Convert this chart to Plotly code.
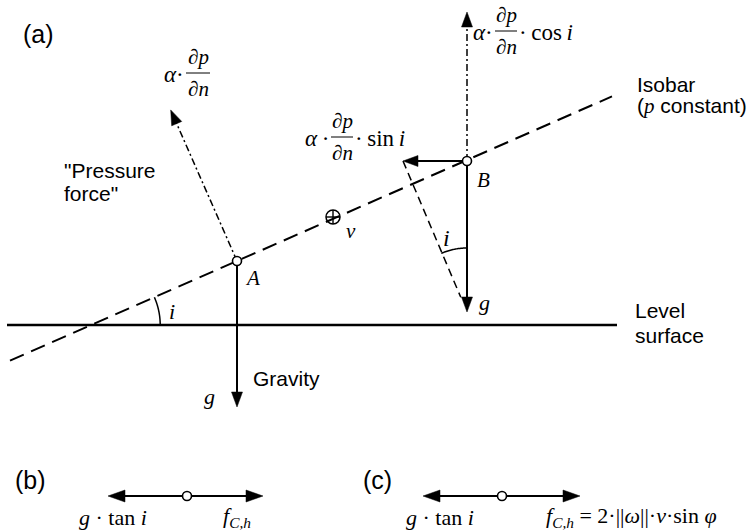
import math
import plotly.graph_objects as go

W, H = 751, 531

# ---------------- diagram data (drawing units = axis units) ----------------
incl_deg = 23.7                      # inclination angle i of the isobar
point_names = ["A", "B"]             # points on the isobar
point_x = [237, 467]
point_y = [261, 161]
level_y = 325                        # level surface
level_x = [7, 617]
isobar_x = [10, 612]                 # extent of the isobar
gravity_tip_y = [407, 312]           # g arrow tips below A and B
pressure_len = 165                   # "pressure force" arrow length at A
cos_tip_y = 12                       # upward component at B
sin_tip_x = 403                      # horizontal component at B
velocity_xy = [333, 217]             # ⊕ v (flow into the page)

# panels (b) and (c)
panel_labels = ["(b)", "(c)"]
panel_label_x = [30, 377]
panel_mid_x = [187, 502]
panel_left_x = [108, 423]
panel_right_x = [263, 580]
panel_y = 496
panel_left_text = ["<i>g</i> · tan <i>i</i>", "<i>g</i> · tan <i>i</i>"]
panel_right_text = ["<i>f</i><sub><i>C,h</i></sub>",
                    "<i>f</i><sub><i>C,h</i></sub> = 2·||<i>ω</i>||·<i>v</i>·sin <i>φ</i>"]
panel_left_text_x = [78, 405]
panel_right_text_x = [222, 545]

SANS = "Liberation Sans, Arial, sans-serif"
SERIF = "Liberation Serif, Times New Roman, serif"
SANS_SIZE = 21
PANEL_SIZE = 25
MATH_SIZE = 23
FRAC_SIZE = 21

shapes = []
annotations = []
ti = math.tan(math.radians(incl_deg))
Ax, Ay = point_x[0], point_y[0]
Bx, By = point_x[1], point_y[1]


def iso_y(x):
    return Ay - (x - Ax) * ti


def seg(x0, y0, x1, y1, width=2.0, dash="solid"):
    shapes.append(dict(type="line", xref="x", yref="y", x0=x0, y0=y0, x1=x1, y1=y1,
                       line=dict(color="black", width=width, dash=dash), layer="below"))


def arrow(x0, y0, x1, y1, width=2.0, dash="solid", hl=15, hw=5.5):
    dx, dy = x1 - x0, y1 - y0
    L = math.hypot(dx, dy)
    ux, uy = dx / L, dy / L
    bx, by = x1 - ux * hl, y1 - uy * hl
    seg(x0, y0, bx + ux * 2, by + uy * 2, width, dash)
    px, py = -uy, ux
    path = "M {:.2f},{:.2f} L {:.2f},{:.2f} L {:.2f},{:.2f} Z".format(
        x1, y1, bx + px * hw, by + py * hw, bx - px * hw, by - py * hw)
    shapes.append(dict(type="path", xref="x", yref="y", path=path,
                       fillcolor="black", line=dict(color="black", width=0.5), layer="below"))


def arc(cx, cy, r, a0, a1, n=30):
    pts = []
    for k in range(n + 1):
        a = math.radians(a0 + (a1 - a0) * k / n)
        pts.append((cx + r * math.cos(a), cy - r * math.sin(a)))
    path = "M " + " L ".join("{:.2f},{:.2f}".format(*p) for p in pts)
    shapes.append(dict(type="path", xref="x", yref="y", path=path,
                       line=dict(color="black", width=1.5), layer="below"))


def text(x, y, s, size=SANS_SIZE, family=SANS, xa="center", ya="middle"):
    annotations.append(dict(x=x, y=y, xref="x", yref="y", text=s, showarrow=False,
                            xanchor=xa, yanchor=ya, borderpad=0,
                            font=dict(family=family, size=size, color="black")))


def frac_term(xl, yline, pre, post, w=22):
    """alpha · dp/dn · post, with the fraction bar from xl to xl+w at yline"""
    xc = xl + w / 2
    text(xc, yline - 3, "∂<i>p</i>", FRAC_SIZE, SERIF, ya="bottom")
    text(xc, yline + 3, "∂<i>n</i>", FRAC_SIZE, SERIF, ya="top")
    shapes.append(dict(type="line", xref="x", yref="y", x0=xl, x1=xl + w, y0=yline, y1=yline,
                       line=dict(color="black", width=1), layer="below"))
    text(xl - 1, yline + 1, pre, MATH_SIZE, SERIF, xa="right")
    if post:
        text(xl + w + 1, yline + 1, post, MATH_SIZE, SERIF, xa="left")


# ---------------- panel (a) ----------------
text(38, 34, "(a)", PANEL_SIZE)

# level surface
seg(level_x[0], level_y, level_x[1], level_y, width=2.6)
text(634, 310, "Level", xa="left")
text(634, 335, "surface", xa="left")

# isobar
seg(isobar_x[0], iso_y(isobar_x[0]), isobar_x[1], iso_y(isobar_x[1]), width=2, dash="15px,8px")
text(636, 84, "Isobar", xa="left")
text(636, 106, "(<span style='font-family:Liberation Serif'><i>p</i></span> constant)", xa="left")

# angle i between isobar and level surface
x_cross = Ax - (level_y - Ay) / ti
arc(x_cross, level_y, 69, 0, incl_deg)
text(172, 311, "<i>i</i>", 22, SERIF)

# pressure force at A (perpendicular to isobar)
s, c = math.sin(math.radians(incl_deg)), math.cos(math.radians(incl_deg))
arrow(Ax, Ay, Ax - s * pressure_len, Ay - c * pressure_len, width=1.5, dash="7px,3px,2px,3px")
frac_term(186, 73, "<i>α</i>·", "", w=24)
text(63, 170, "\"Pressure", xa="left")
text(63, 193, "force\"", xa="left")

# gravity at A
arrow(Ax, Ay, Ax, gravity_tip_y[0], width=2)
text(252, 378, "Gravity", xa="left")
text(209, 396, "<i>g</i>", 22, SERIF)
text(252, 278, "<i>A</i>", 21, SERIF)

# velocity into page
vx, vy = velocity_xy
shapes.append(dict(type="circle", xref="x", yref="y", x0=vx - 7, x1=vx + 7, y0=vy - 7, y1=vy + 7,
                   line=dict(color="black", width=1.5), layer="below"))
seg(vx - 7, vy, vx + 7, vy, width=1.4)
seg(vx, vy - 7, vx, vy + 7, width=1.4)
text(351, 231, "<i>v</i>", 21, SERIF)

# point B components
arrow(Bx, By, Bx, cos_tip_y, width=1.5, dash="7px,3px,2px,3px")
frac_term(495, 31, "<i>α</i>·", "·\u2009cos\u2009<i>i</i>")

arrow(Bx, By, sin_tip_x, By, width=2)
frac_term(331, 137, "<i>α</i>\u2009·", "·\u2009sin\u2009<i>i</i>")

arrow(Bx, By, Bx, gravity_tip_y[1], width=2)
text(484, 302, "<i>g</i>", 22, SERIF)
text(483, 180, "<i>B</i>", 21, SERIF)

# dashed line from horizontal component tip toward g tip
gx, gy = Bx, gravity_tip_y[1]
ddx, ddy = gx - sin_tip_x, gy - By
dl = math.hypot(ddx, ddy)
seg(sin_tip_x, By, sin_tip_x + ddx / dl * (dl - 16), By + ddy / dl * (dl - 16), width=1.5, dash="8px,5px")
arc(gx, gy, 64, 90, 90 + incl_deg)
text(446, 238, "<i>i</i>", 24, SERIF)

# ---------------- panels (b) and (c) ----------------
for k in range(2):
    text(panel_label_x[k], 480, panel_labels[k], PANEL_SIZE)
    arrow(panel_mid_x[k], panel_y, panel_left_x[k], panel_y, width=2, hl=17, hw=6)
    arrow(panel_mid_x[k], panel_y, panel_right_x[k], panel_y, width=2, hl=17, hw=6)
    text(panel_left_text_x[k], 517, panel_left_text[k], 22, SERIF, xa="left")
    text(panel_right_text_x[k], 517, panel_right_text[k], 22, SERIF, xa="left")

# open circles at the points of application
fig = go.Figure()
fig.add_trace(go.Scatter(
    x=point_x + panel_mid_x, y=point_y + [panel_y, panel_y], mode="markers",
    marker=dict(symbol="circle", size=9, color="white", line=dict(color="black", width=1.6)),
    hoverinfo="skip", showlegend=False))

fig.update_layout(
    width=W, height=H, margin=dict(l=0, r=0, t=0, b=0),
    paper_bgcolor="white", plot_bgcolor="white",
    xaxis=dict(range=[0, W], visible=False, fixedrange=True),
    yaxis=dict(range=[H, 0], visible=False, fixedrange=True),
    shapes=shapes, annotations=annotations, showlegend=False,
)
fig.write_html("out.html")
